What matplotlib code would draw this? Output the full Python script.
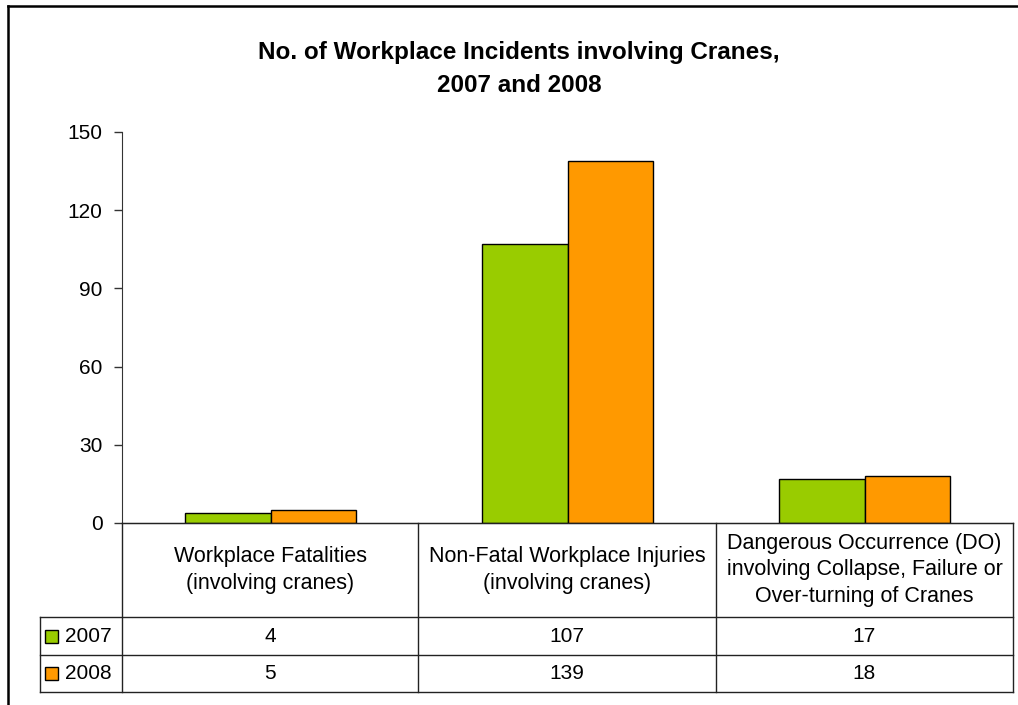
import numpy as np
import matplotlib
matplotlib.use('Agg')
import matplotlib.pyplot as plt
from matplotlib.lines import Line2D
from matplotlib.patches import Rectangle

plt.rcParams['font.family'] = ['Liberation Sans', 'DejaVu Sans']

# data
categories = ['Workplace Fatalities\n(involving cranes)',
              'Non-Fatal Workplace Injuries\n(involving cranes)',
              'Dangerous Occurrence (DO)\ninvolving Collapse, Failure or\nOver-turning of Cranes']
years = ['2007', '2008']
vals_2007 = [4, 107, 17]
vals_2008 = [5, 139, 18]
colors = ['#99CC00', '#FF9900']

W, H = 1018, 705
fig = plt.figure(figsize=(W / 100, H / 100), dpi=100)

def fx(x):
    return x / W

def fy(y):
    return 1 - y / H

def hline(x0, x1, y, color='#222222', lw=1.0):
    fig.add_artist(Line2D([fx(x0), fx(x1)], [fy(y), fy(y)], transform=fig.transFigure,
                          color=color, lw=lw))

def vline(x, y0, y1, color='#222222', lw=1.0):
    fig.add_artist(Line2D([fx(x), fx(x)], [fy(y0), fy(y1)], transform=fig.transFigure,
                          color=color, lw=lw))

# outer frame (only top and left visible)
hline(8, W + 5, 6, color='black', lw=1.8)
vline(8, 6, H + 5, color='black', lw=1.8)

# plot area in pixels
left, right, top, bottom = 122, 1013, 132, 523
ax = fig.add_axes([fx(left), fy(bottom), fx(right - left), (bottom - top) / H])

x = np.arange(len(categories))
bw = 0.287
ax.bar(x - bw / 2, vals_2007, bw, color=colors[0], edgecolor='black', lw=1.0, zorder=3)
ax.bar(x + bw / 2, vals_2008, bw, color=colors[1], edgecolor='black', lw=1.0, zorder=3)

ax.set_xlim(-0.5, len(categories) - 0.5)
ax.set_ylim(0, 150)
ax.set_yticks(np.arange(0, 151, 30))
ax.tick_params(axis='y', direction='out', length=6, width=1.0, color='#333333',
               labelsize=15, pad=8)
ax.set_xticks([])
for s in ['top', 'right']:
    ax.spines[s].set_visible(False)
ax.spines['left'].set_color('#333333')
ax.spines['bottom'].set_color('#222222')

fig.text(fx(519), fy(69), 'No. of Workplace Incidents involving Cranes,\n2007 and 2008',
         ha='center', va='center', fontsize=17.5, fontweight='bold', linespacing=1.5)

# data table below the axis
col_edges = [122, 418, 716, 1013]
row_lines = [617, 655, 692]
tab_left = 40
vline(left, bottom, row_lines[-1])
for xe in col_edges[1:]:
    vline(xe, bottom, row_lines[-1])
hline(left, right, bottom)
for yl in row_lines:
    hline(tab_left, right, yl)
vline(tab_left, row_lines[0], row_lines[-1])

for i, cat in enumerate(categories):
    cx = (col_edges[i] + col_edges[i + 1]) / 2
    fig.text(fx(cx), fy(570), cat, ha='center', va='center', fontsize=15.5, linespacing=1.32)

rows = [vals_2007, vals_2008]
for r, (yr, vals) in enumerate(zip(years, rows)):
    cy = (row_lines[r] + row_lines[r + 1]) / 2
    fig.add_artist(Rectangle((fx(45), fy(cy + 6.5)), fx(13), 13 / H, transform=fig.transFigure,
                             facecolor=colors[r], edgecolor='black', lw=1.0))
    fig.text(fx(65), fy(cy), yr, ha='left', va='center', fontsize=15)
    for i, v in enumerate(vals):
        cx = (col_edges[i] + col_edges[i + 1]) / 2
        fig.text(fx(cx), fy(cy), str(v), ha='center', va='center', fontsize=15)

fig.savefig('out.png', dpi=100)
